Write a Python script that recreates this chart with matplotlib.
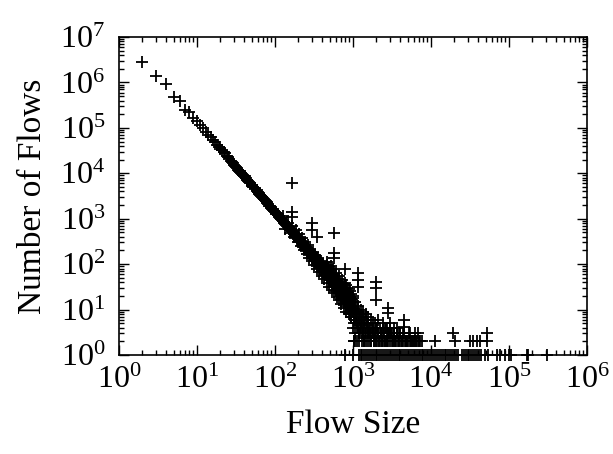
import matplotlib
matplotlib.use('Agg')
import matplotlib.pyplot as plt
from matplotlib.ticker import LogLocator, NullFormatter

plt.rcParams['font.family'] = 'Liberation Serif'
plt.rcParams['mathtext.fontset'] = 'custom'
plt.rcParams['mathtext.rm'] = 'Liberation Serif'
plt.rcParams['mathtext.it'] = 'Liberation Serif:italic'

# main power-law band (flow size, number of flows)
band_sizes = [2, 3, 4, 5, 6, 7, 8, 9, 10,
              11, 12, 13, 14, 15, 16, 17, 18, 19, 20, 22, 24, 25, 26, 28, 30,
              32, 34, 36, 38, 40, 42, 45, 48, 50, 53, 56, 60, 63, 66, 70, 74,
              78, 82, 86, 90, 95, 100,
              104, 108, 112, 116, 120, 125, 130, 135, 140, 145, 150, 156, 162,
              168, 174, 180, 187, 194, 200,
              207, 210, 214, 220, 226, 232, 238, 245, 252, 259, 266, 274, 282,
              290, 298, 306, 315, 324, 333, 342, 352, 362, 372, 383, 394, 405,
              417, 429, 441, 454, 467, 480, 494, 508, 522, 537, 552, 568, 584,
              600, 617, 634, 652, 670, 689, 708, 728, 748, 769, 790, 812, 835,
              858, 882, 906, 931, 957, 984, 1011,
              460, 520, 560, 610, 660, 720, 780, 850, 920, 990,
              603, 702, 803, 903, 951]
band_counts = [2800000, 1400000, 930000, 470000, 400000, 250000, 220000, 165000, 140000,
               115000, 97000, 83000, 71000, 62000, 54000, 48000, 43000, 38000, 35000,
               29000, 24000, 22500, 20500, 18000, 15500,
               13800, 12000, 10800, 9800, 8700, 8000, 6900, 6100, 5600, 5000, 4500,
               3900, 3500, 3200, 2850, 2550, 2300, 2100, 1900, 1750, 1550, 1420,
               1350, 1180, 1150, 1020, 1000, 880, 850, 760, 740, 660, 650, 570, 560,
               500, 480, 430, 420, 370, 360,
               350, 300, 330, 290, 300, 250, 270, 220, 240, 200, 215, 175, 195,
               160, 175, 140, 160, 125, 140, 110, 125, 95, 112, 85, 100, 75,
               90, 66, 80, 58, 72, 50, 64, 44, 58, 40, 52, 35, 46,
               31, 42, 28, 37, 24, 33, 21, 29, 18, 26, 16, 23, 14,
               20, 12, 18, 10, 15, 9, 13,
               110, 90, 80, 65, 55, 45, 38, 30, 25, 20,
               25, 17, 12, 8, 7]

# neighbouring sizes that thicken the band
band2_sizes = [21, 23, 27, 29, 31, 33, 35, 37, 39, 41, 44, 47, 51, 55, 58, 62, 65,
               68, 72, 76, 80, 84, 88, 92, 97,
               102, 106, 110, 114, 118, 122, 128, 132, 138, 143, 148, 153, 159,
               165, 171, 177, 183, 190, 197,
               203, 217, 223, 229, 235, 241, 248, 255, 262, 270, 278, 286, 294,
               302, 310, 320, 328, 338, 347, 357, 367, 377, 388, 399, 411, 423,
               435, 447,
               470, 490, 500, 515, 530, 545, 560, 575, 590, 625, 645, 660, 680,
               700, 715, 740, 760, 780, 800, 825, 845, 870, 895, 915, 940, 970,
               995, 820, 880, 940, 1000, 1020]
band2_counts = [33000, 27500, 19000, 16800, 14200, 13000, 11200, 10400, 9000, 8500,
                7200, 6400, 5300, 4700, 4200, 3600, 3350, 3000, 2700, 2400, 2200,
                1950, 1850, 1650, 1500,
                1300, 1300, 1250, 1080, 1050, 960, 900, 800, 780, 700, 690, 600, 590,
                530, 520, 450, 440, 400, 380,
                320, 310, 270, 280, 240, 260, 215, 225, 195, 205, 170, 185, 150,
                165, 135, 145, 118, 130, 105, 118, 92, 104, 82, 94, 70, 84,
                62, 76,
                95, 85, 56, 48, 70, 45, 38, 60, 33, 30, 48, 26, 40,
                23, 36, 20, 30, 17, 27, 15, 24, 13, 21, 11, 17, 12,
                10, 35, 28, 22, 18, 7]

# upper and lower edges of the band where it widens
band3_sizes = [125, 135, 145, 155, 165, 175, 185, 195, 205, 215, 225, 235, 245,
               255, 265, 275, 285, 295, 305, 318, 330, 343, 356, 370, 384, 398,
               413, 428, 444, 460, 477, 495, 513, 532, 552, 572, 593, 615, 638,
               661, 685, 710, 736, 763, 791, 820, 850, 881, 913, 946, 980]
band3_counts = [1150, 600, 820, 480, 700, 390, 560, 300, 460, 250, 380, 200, 310,
                165, 260, 140, 220, 115, 185, 95, 160, 80, 135, 66, 115, 55,
                100, 46, 85, 38, 74, 32, 64, 27, 56, 23, 48, 19, 41,
                16, 35, 13, 30, 11, 26, 9, 22, 8, 19, 7, 16]

# tail where the band breaks up (counts 2 and more)
tail_sizes = [1040, 1060, 1080, 1100, 1120, 1150, 1180, 1200, 1230, 1260, 1300,
              1330, 1370, 1400, 1440, 1480, 1520, 1560, 1600, 1650, 1700, 1750,
              1800, 1850, 1900, 1960, 2020, 2080, 2150, 2220, 2300, 2380, 2460,
              2550, 2640, 2740, 2850, 2960, 3080, 3200, 3330, 3470, 3620, 3780,
              3950, 4130, 4320, 4520, 4730, 4960, 5200, 5450, 5720, 6000, 6300,
              6620, 6950, 7300, 7670,
              1050, 1155, 1250, 1350, 1450, 1550, 1700, 1900, 2100, 2400, 2700,
              3000, 3400, 3800, 1045,
              1010, 1030, 1070, 1090, 1110, 1130, 1170, 1190, 1210, 1240, 1270,
              1290, 1310, 1340, 1360, 1390, 1420, 1460, 1500, 1540, 1580, 1620,
              1670, 1720, 1780, 1830, 1880, 1930, 1990, 2050, 2120, 2190, 2260,
              2340, 2420, 2500, 2600, 2690, 2800, 2900, 3020, 3140, 3260, 3400,
              3540, 3700, 3860, 4040, 4220, 4420, 4620, 4840, 5080, 5320, 5580,
              5860, 6150, 6460, 6780, 7120,
              1015, 1065, 1125, 1185, 1245, 1315, 1385, 1465, 1545, 1635, 1725,
              1825, 1935, 2045, 2165, 2295, 2435, 2585, 2745, 2915, 3095, 3285,
              3485, 3695, 3915]
tail_counts = [11, 6, 8, 5, 9, 4, 7, 3, 6, 4, 5,
               3, 6, 2, 4, 3, 5, 2, 4, 3, 2, 4,
               3, 2, 3, 4, 2, 3, 2, 4, 3, 2, 3,
               2, 4, 2, 3, 2, 3, 2, 3, 2, 4, 2,
               3, 2, 2, 3, 2, 2, 3, 2, 2, 2, 3,
               2, 2, 2, 2,
               15, 12, 10, 9, 8, 7, 6, 5, 6, 5, 4,
               5, 4, 3, 2,
               4, 5, 3, 7, 4, 6, 5, 3, 8, 4, 5,
               3, 7, 4, 3, 5, 3, 6, 4, 3, 5, 3,
               4, 3, 5, 4, 2, 3, 2, 4, 3, 2, 3,
               2, 4, 3, 2, 3, 2, 3, 4, 3, 2, 3,
               2, 3, 2, 3, 2, 3, 2, 2, 2, 3, 2,
               2, 2, 2, 3, 2,
               2, 2, 2, 2, 3, 2, 2, 2, 3, 2, 2,
               3, 2, 3, 2, 3, 2, 4, 2, 3, 3, 2,
               2, 3, 2]

# points sitting above the main band
outlier_sizes = [165, 165, 165, 300, 300, 345, 570, 570, 570, 790, 1150, 1150, 1150,
                 2000, 2000, 2000, 2800, 2800, 4500, 4500,
                 11300, 20400, 19000, 31600, 34500, 38800, 42500, 52000, 52000]
outlier_counts = [6100, 1400, 1100, 800, 560, 390, 485, 175, 137, 80, 64, 45, 31,
                  40, 30, 16, 11, 8.4, 5.9, 4.1,
                  2, 2, 3, 2, 2, 2, 2, 2, 3]

# sizes seen exactly once
single_sizes = [790, 1000, 1180, 1250, 1320, 1400, 1470, 1560, 1650, 1740, 1840,
                1950, 2060, 2180, 2310, 2440, 2580, 2730, 2890, 3060, 3240, 3430,
                3630, 3840, 4060, 4300, 4550, 4810, 5090, 5390, 5700, 6030, 6380,
                6750, 7150, 7560, 8000, 8470, 8960, 9480, 10030, 10600, 11200,
                11900, 12600, 13300, 14100, 14900, 15800, 16700, 17700, 18700,
                19800, 20900, 22200, 24800, 26200, 27800, 29400, 31100, 32900,
                34800, 36800, 39000, 41200, 43600, 49400, 53500, 70000, 76000,
                88000, 100000, 105000, 170000, 175000, 310000]
single_counts = [1] * len(single_sizes)

fig = plt.figure(figsize=(6.13, 4.54), dpi=100)
ax = fig.add_axes([119 / 613, 1 - 355 / 454, (587 - 119) / 613, (355 - 37) / 454])

for xs, ys in [(band_sizes, band_counts), (band2_sizes, band2_counts),
               (band3_sizes, band3_counts), (tail_sizes, tail_counts),
               (outlier_sizes, outlier_counts), (single_sizes, single_counts)]:
    ax.plot(xs, ys, '+', color='black', ms=9, mew=1.3, clip_on=False)

ax.set_xscale('log')
ax.set_yscale('log')
ax.set_xlim(1, 1e6)
ax.set_ylim(1, 1e7)

for axis in (ax.xaxis, ax.yaxis):
    axis.set_major_locator(LogLocator(base=10, numticks=20))
    axis.set_minor_locator(LogLocator(base=10, subs=range(2, 10), numticks=20))
    axis.set_minor_formatter(NullFormatter())

ax.tick_params(which='both', direction='in', top=True, right=True, labelsize=23)
ax.tick_params(which='major', length=7, width=1)
ax.tick_params(which='minor', length=3.5, width=1)
ax.tick_params(axis='x', pad=8)
ax.tick_params(axis='y', pad=10)
for s in ax.spines.values():
    s.set_linewidth(1.2)

ax.set_xlabel('Flow Size', fontsize=24, labelpad=10)
ax.set_ylabel('Number of Flows', fontsize=24, labelpad=9)

fig.savefig('out.png', dpi=100)
